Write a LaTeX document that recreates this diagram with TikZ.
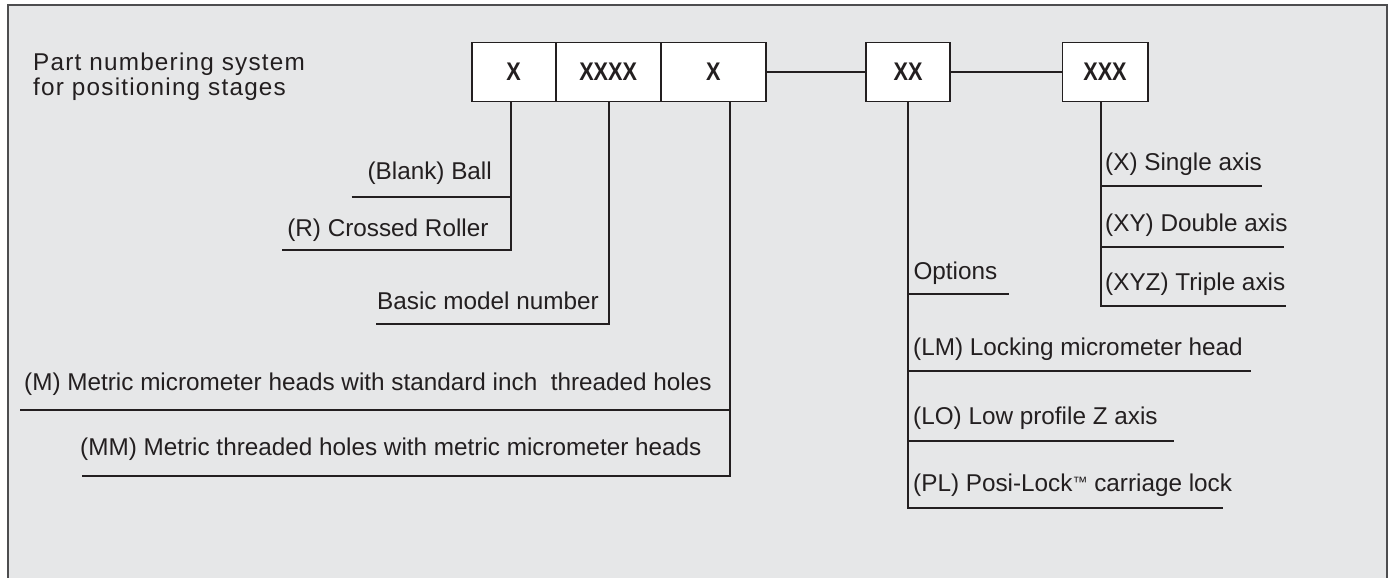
\documentclass[tikz,border=0pt]{standalone}
\usepackage{fontspec}
\setmainfont{Liberation Sans}
\newfontfamily\boxfont[FakeStretch=0.85]{Liberation Sans}
\newfontfamily\titlefont[LetterSpace=5]{Liberation Sans}
\definecolor{bg}{HTML}{E6E7E8}
\definecolor{ink}{HTML}{231F20}
\definecolor{framecol}{HTML}{4D4D4F}
\begin{document}
\begin{tikzpicture}[x=1pt,y=-1pt,
  cell/.style={draw=ink, fill=white, line width=1.6pt, minimum height=58.6pt, inner sep=0pt,
    font=\boxfont\bfseries\fontsize{25.5}{25.5}\selectfont, text=ink},
  lbl/.style={inner sep=0pt, font=\fontsize{24.3}{28}\selectfont, text=ink},
  ttl/.style={inner sep=0pt, font=\titlefont\fontsize{24.3}{28}\selectfont, text=ink},
  conn/.style={draw=ink, line width=1.8pt}]
\useasboundingbox (0,0) rectangle (1390,578);
\fill[bg] (8,5) rectangle (1387,578);
\draw[framecol, line width=2pt] (8,578) -- (8,5) -- (1387,5) -- (1387,578);

% title
\node[ttl, anchor=base west] (t1) at (33,70.5) {Part numbering system};
\node[ttl, anchor=base west] (t2) at (33,95.5) {for positioning stages};

% boxes
\node[cell, minimum width=84pt] (c1) at (513.7,72) {X};
\node[cell, minimum width=105pt] (c2) at (608.2,72) {XXXX};
\node[cell, minimum width=105.3pt] (c3) at (713.35,72) {X};
\node[cell, minimum width=84pt] (xx) at (908,72) {\raisebox{-3pt}{XX}};
\node[cell, minimum width=85.4pt] (xxx) at (1105,72) {\raisebox{-3pt}{XXX}};

\draw[conn] (c3.east) -- (xx.west);
\draw[conn] (xx.east) -- (xxx.west);

% bearing type
\coordinate (k1) at (510.7,250);
\coordinate (k1l) at (281.7,250);
\coordinate (b1l) at (351.7,196.7);
\coordinate (b1r) at (510.7,196.7);
\draw[conn] (c1.south -| k1) -- (k1) -- (k1l);
\draw[conn] (b1l) -- (b1r);
\node[lbl, anchor=base east] (ball) at (492,179) {(Blank) Ball};
\node[lbl, anchor=base east] (roller) at (488.7,236.7) {(R) Crossed Roller};

% basic model
\coordinate (k2) at (609.3,324);
\coordinate (k2l) at (376,324);
\draw[conn] (c2.south -| k2) -- (k2) -- (k2l);
\node[lbl, anchor=base west] (basic) at (377,309.3) {Basic model number};

% metric
\coordinate (k3) at (730.3,476);
\coordinate (k3l) at (81.7,476);
\coordinate (m1l) at (20,410);
\coordinate (m1r) at (730.3,410);
\draw[conn] (c3.south -| k3) -- (k3) -- (k3l);
\draw[conn] (m1l) -- (m1r);
\node[lbl, anchor=base west] (mtext) at (24,390) {(M) Metric micrometer heads with standard inch\ \ threaded holes};
\node[lbl, anchor=base west] (mmtext) at (80,455) {(MM) Metric threaded holes with metric micrometer heads};

% options
\coordinate (k4) at (908.3,508.3);
\coordinate (pl) at (1222.7,508.3);
\coordinate (opl) at (908.3,294.3);
\coordinate (opr) at (1009,294.3);
\coordinate (lml) at (908.3,371.3);
\coordinate (lmr) at (1251,371.3);
\coordinate (lol) at (908.3,440.7);
\coordinate (lor) at (1173.7,440.7);
\draw[conn] (xx.south -| k4) -- (k4) -- (pl);
\draw[conn] (opl) -- (opr);
\draw[conn] (lml) -- (lmr);
\draw[conn] (lol) -- (lor);
\node[lbl, anchor=base west] (opt) at (913.3,279.3) {Options};
\node[lbl, anchor=base west] (lm) at (913,355) {(LM) Locking micrometer head};
\node[lbl, anchor=base west] (lo) at (913,424) {(LO) Low profile Z axis};
\node[lbl, anchor=base west] (pltext) at (913,491.7) {(PL) Posi-Lock\raisebox{4pt}{\fontsize{15}{15}\selectfont ™} carriage lock};

% axes
\coordinate (k5) at (1101,305.7);
\coordinate (xyz) at (1285.7,305.7);
\coordinate (sxl) at (1101,186);
\coordinate (sxr) at (1261.7,186);
\coordinate (dxl) at (1101,247);
\coordinate (dxr) at (1284,247);
\draw[conn] (xxx.south -| k5) -- (k5) -- (xyz);
\draw[conn] (sxl) -- (sxr);
\draw[conn] (dxl) -- (dxr);
\node[lbl, anchor=base west] (sx) at (1105,170) {(X) Single axis};
\node[lbl, anchor=base west] (dx) at (1105,231.7) {(XY) Double axis};
\node[lbl, anchor=base west] (tx) at (1105,290) {(XYZ) Triple axis};
\end{tikzpicture}
\end{document}
